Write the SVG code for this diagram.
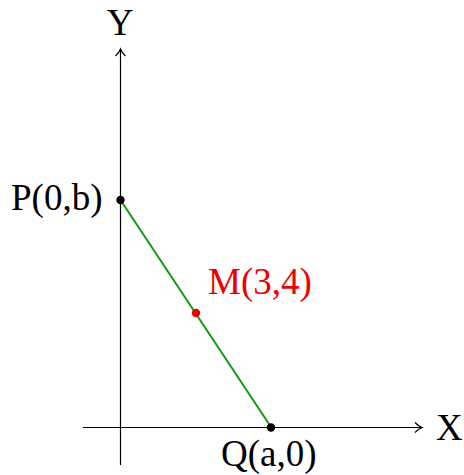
<svg xmlns="http://www.w3.org/2000/svg" width="464" height="475" viewBox="0 0 464 475">
<style>
.ax{stroke:#000;stroke-width:1.2;fill:none}
.t{font-family:"Liberation Serif","Times New Roman",serif;font-size:37px;fill:#000}
.r{fill:#e00}
</style>
<rect width="464" height="475" fill="#fff"/>
<g id="axes">
<path class="ax" d="M83 427.5H421"/>
<path class="ax" d="M415 422.5Q418 426 422 427.5Q418 429 415 432.5"/>
<path class="ax" d="M120.5 465V49"/>
<path class="ax" d="M115.5 56Q119 53 120.5 49Q122 53 125.5 56"/>
</g>
<g id="connectors">
<line x1="120.5" y1="200" x2="271" y2="427" stroke="#119911" stroke-width="2"/>
</g>
<g id="P"><circle cx="120.5" cy="200" r="4.2"/><text class="t" x="11" y="210">P(0,b)</text></g>
<g id="Q"><circle cx="271" cy="427.5" r="4.2"/><text class="t" x="221" y="466">Q(a,0)</text></g>
<g id="M"><circle cx="196" cy="313" r="4.2" fill="#e00"/><text class="t r" x="208" y="294">M(3,4)</text></g>
<g id="labels"><text class="t" x="120" y="35" text-anchor="middle">Y</text><text class="t" x="436" y="440">X</text></g>
</svg>
